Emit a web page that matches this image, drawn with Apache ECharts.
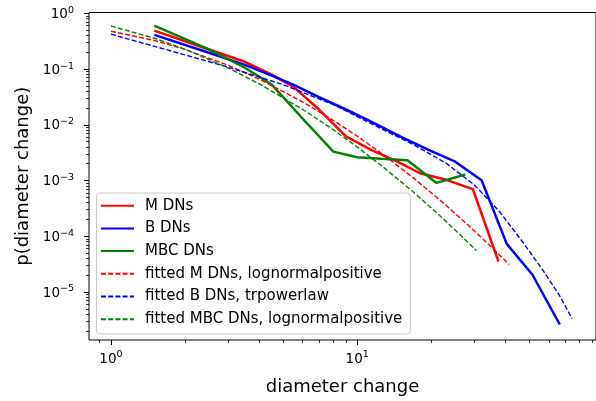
<!DOCTYPE html>
<html>
<head>
<meta charset="utf-8">
<script src="https://cdn.jsdelivr.net/npm/echarts@6/dist/echarts.min.js"></script>
<style>
  html, body { margin: 0; padding: 0; background: #ffffff; }
  #chart { width: 596px; height: 401px; }
</style>
</head>
<body>
<div id="chart"></div>
<script>
// Binned empirical densities: bin centres and p(diameter change)
const mX   = [1.5, 2.5, 3.5, 4.5, 5.5, 7, 9, 11.5, 14.5, 18, 23, 29.5, 37.5];
const mY   = [0.489, 0.224, 0.135, 0.0791, 0.0483, 0.01876, 0.00618, 0.00348, 0.00221, 0.00135, 0.00103, 0.0007, 3.52e-5];
const bX   = [1.5, 2.5, 3.5, 4.5, 5.5, 7, 9, 11.5, 15, 19.5, 25, 32, 40.5, 51.5, 66.5];
const bY   = [0.41, 0.1955, 0.119, 0.0759, 0.0525, 0.0314, 0.0188, 0.0112, 0.00613, 0.00355, 0.00218, 0.00101, 7.29e-5, 2.04e-5, 2.61e-6];
const mbcX = [1.5, 2.5, 3.5, 4.5, 6, 8, 10, 12.5, 16, 21, 27.5];
const mbcY = [0.601, 0.226, 0.1055, 0.0525, 0.01296, 0.0033, 0.00261, 0.00245, 0.0023, 0.000906, 0.00128];

// Fitted distributions
const fitMX   = [1, 1.5, 2, 3, 4, 6, 8, 10, 13, 17, 22, 28, 35, 41.4];
const fitMY   = [0.476, 0.326, 0.2249, 0.1164, 0.066, 0.02578, 0.012, 0.00626, 0.00274, 0.001094, 0.000422, 0.000164, 6.48e-5, 3.12e-5];
const fitBX   = [1, 2, 3, 5, 8, 12, 17, 23, 30, 38, 47, 57, 66, 74.6];
const fitBY   = [0.4217, 0.1794, 0.1077, 0.0525, 0.02305, 0.00933, 0.00436, 0.00204, 0.000824, 0.000272, 7.9e-5, 2.4e-5, 8.95e-6, 3.34e-6];
const fitMBCX = [1, 1.5, 2, 3, 4, 6, 8, 10, 13, 17, 22, 26, 30.5];
const fitMBCY = [0.5916, 0.3573, 0.2264, 0.104, 0.0543, 0.01893, 0.00814, 0.004, 0.001633, 0.00061, 0.00022, 0.00011, 5.53e-5];

// Axis ticks
const xMajorTicks = [1, 10];
const yMajorTicks = [1e-5, 1e-4, 1e-3, 1e-2, 1e-1, 1];
const xMinorTicks = [0.9];
for (const d of [1, 10]) for (let k = 2; k <= 9; k++) xMinorTicks.push(k * d);
const yMinorTicks = [];
for (let e = -6; e <= -1; e++) for (let k = 2; k <= 9; k++) yMinorTicks.push(k * Math.pow(10, e));

const X_MIN = 0.8144, X_MAX = 93.3;
const Y_MIN = 1.377e-6, Y_MAX = 1.0335;

const FONT = 'DejaVu Sans';

function powLabel(v) {
  const e = Math.round(Math.log10(v));
  return '{b|10}{s|' + (e < 0 ? '\u2212' + (-e) : String(e)) + '}';
}
const powRich = {
  b: { fontSize: 13.5, fontFamily: FONT, color: '#000', lineHeight: 16, verticalAlign: 'bottom' },
  s: { fontSize: 9.5, fontFamily: FONT, color: '#000', lineHeight: 10, verticalAlign: 'top' }
};

function lineSeries(name, xs, ys, color, dashed, z) {
  return {
    name: name,
    type: 'line',
    data: xs.map((x, i) => [x, ys[i]]),
    symbol: 'none',
    showSymbol: false,
    smooth: false,
    xAxisIndex: 0,
    yAxisIndex: 0,
    z: z,
    itemStyle: { color: color },
    lineStyle: dashed
      ? { color: color, width: 1.4, type: [5, 2.2] }
      : { color: color, width: 2.5, type: 'solid' }
  };
}

const chart = echarts.init(document.getElementById('chart'), null, { renderer: 'canvas' });

chart.setOption({
  animation: false,
  backgroundColor: '#ffffff',
  grid: {
    left: 89, right: -1, top: 12.5, bottom: 59.5,
    show: true, borderColor: '#000', borderWidth: 1, backgroundColor: 'transparent'
  },
  legend: {
    orient: 'vertical',
    left: 96.5,
    top: 193,
    itemWidth: 33,
    itemHeight: 14,
    itemGap: 7.7,
    padding: [5.2, 8, 7.2, 3.5],
    backgroundColor: 'rgba(255,255,255,0.8)',
    borderColor: '#cccccc',
    borderWidth: 1,
    borderRadius: 3,
    // line handles only, no marker in the middle
    itemStyle: { color: 'rgba(0,0,0,0)', borderWidth: 0, opacity: 0 },
    textStyle: { fontFamily: FONT, fontSize: 15, lineHeight: 15, color: '#000', padding: [0, 0, 0, 6] },
    data: [
      'M DNs', 'B DNs', 'MBC DNs',
      'fitted M DNs, lognormalpositive',
      'fitted B DNs, trpowerlaw',
      'fitted MBC DNs, lognormalpositive'
    ]
  },
  xAxis: [
    {
      type: 'log', logBase: 10, min: X_MIN, max: X_MAX, position: 'bottom',
      name: 'diameter change', nameLocation: 'middle', nameGap: 38,
      nameTextStyle: { fontFamily: FONT, fontSize: 18, color: '#000' },
      axisLine: { show: false },
      splitLine: { show: false },
      axisTick: { show: true, inside: false, length: 5, customValues: xMajorTicks, lineStyle: { color: '#000', width: 1 } },
      axisLabel: { show: true, margin: 10, customValues: xMajorTicks, formatter: powLabel, rich: powRich }
    },
    {
      type: 'log', logBase: 10, min: X_MIN, max: X_MAX, position: 'bottom',
      axisLine: { show: false },
      splitLine: { show: false },
      axisTick: { show: true, inside: false, length: 3, customValues: xMinorTicks, lineStyle: { color: '#000', width: 0.8 } },
      axisLabel: { show: false }
    }
  ],
  yAxis: [
    {
      type: 'log', logBase: 10, min: Y_MIN, max: Y_MAX, position: 'left',
      name: 'p(diameter change)', nameLocation: 'middle', nameGap: 51,
      nameTextStyle: { fontFamily: FONT, fontSize: 18, color: '#000' },
      axisLine: { show: false },
      splitLine: { show: false },
      axisTick: { show: true, inside: false, length: 5, customValues: yMajorTicks, lineStyle: { color: '#000', width: 1 } },
      axisLabel: { show: true, margin: 15, customValues: yMajorTicks, formatter: powLabel, rich: powRich }
    },
    {
      type: 'log', logBase: 10, min: Y_MIN, max: Y_MAX, position: 'left',
      axisLine: { show: false },
      splitLine: { show: false },
      axisTick: { show: true, inside: false, length: 3, customValues: yMinorTicks, lineStyle: { color: '#000', width: 0.8 } },
      axisLabel: { show: false }
    }
  ],
  series: [
    lineSeries('M DNs', mX, mY, '#ff0000', false, 2),
    lineSeries('B DNs', bX, bY, '#0000ff', false, 3),
    lineSeries('MBC DNs', mbcX, mbcY, '#008000', false, 4),
    lineSeries('fitted M DNs, lognormalpositive', fitMX, fitMY, '#ff0000', true, 5),
    lineSeries('fitted B DNs, trpowerlaw', fitBX, fitBY, '#0000ff', true, 6),
    lineSeries('fitted MBC DNs, lognormalpositive', fitMBCX, fitMBCY, '#008000', true, 7)
  ]
});
</script>
</body>
</html>
